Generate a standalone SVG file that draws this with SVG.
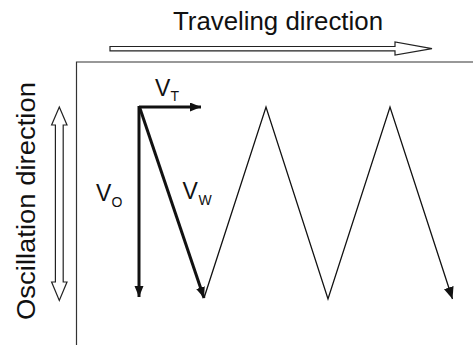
<svg xmlns="http://www.w3.org/2000/svg" width="473" height="345" viewBox="0 0 473 345">
<style>
  text { font-family: "Liberation Sans", Arial, sans-serif; fill: #111; }
  .big { font-size: 25px; }
  .lab { font-size: 23px; }
  .sub { font-size: 14px; }
  .thick { stroke: #111; stroke-width: 3; fill: none; }
  .thin { stroke: #111; stroke-width: 1.3; fill: none; stroke-linejoin: miter; }
  .hollow { fill: #fff; stroke: #222; stroke-width: 1.2; stroke-linejoin: miter; }
  .frame { stroke: #333; stroke-width: 1.2; fill: none; }
</style>
<defs>
  <marker id="ahThick" markerUnits="userSpaceOnUse" markerWidth="12" markerHeight="10" refX="11" refY="4.5" orient="auto">
    <path d="M0,0 L11,4.5 L0,9 Z" fill="#111"/>
  </marker>
  <marker id="ahThin" markerUnits="userSpaceOnUse" markerWidth="14" markerHeight="12" refX="12" refY="5" orient="auto">
    <path d="M0,0 L12,5 L0,10 Z" fill="#111"/>
  </marker>
</defs>
<rect width="473" height="345" fill="#fff"/>

<g id="frame">
  <path class="frame" d="M76.5,345 L76.5,62 L473,62"/>
</g>

<g id="traveling-direction">
  <text class="big" x="173" y="30" textLength="210" lengthAdjust="spacingAndGlyphs">Traveling direction</text>
  <path class="hollow" d="M110,46.5 L395,46.5 L395,42 L432,48.7 L395,55 L395,50.9 L110,50.9 Z"/>
</g>

<g id="oscillation-direction">
  <text transform="translate(35,320) rotate(-90)" x="0" y="0" textLength="238" lengthAdjust="spacingAndGlyphs" style="font-size:26px">Oscillation direction</text>
  <path class="hollow" d="M59.3,107 L67,125 L63.2,125 L63.2,282 L67,282 L59.3,300.5 L51.6,282 L55.4,282 L55.4,125 L51.6,125 Z"/>
</g>

<g id="connectors">
  <path class="thick" d="M139,107 L201,107" marker-end="url(#ahThick)" stroke-linejoin="miter"/>
  <path class="thick" d="M139,106 L139,297" marker-end="url(#ahThick)"/>
  <path class="thick" d="M139.5,107 L204,298" marker-end="url(#ahThick)"/>
  <path class="thin" d="M204,298 L266,107 L328,299 L390,107 L452.5,299" marker-end="url(#ahThin)"/>
</g>

<g id="label-vt">
  <text class="lab" x="155" y="96">V</text>
  <text class="sub" x="170.5" y="101">T</text>
</g>
<g id="label-vo">
  <text class="lab" x="96" y="201">V</text>
  <text class="sub" x="111.5" y="206.5">O</text>
</g>
<g id="label-vw">
  <text class="lab" x="182.5" y="198.5">V</text>
  <text class="sub" x="198.5" y="205">W</text>
</g>
</svg>
